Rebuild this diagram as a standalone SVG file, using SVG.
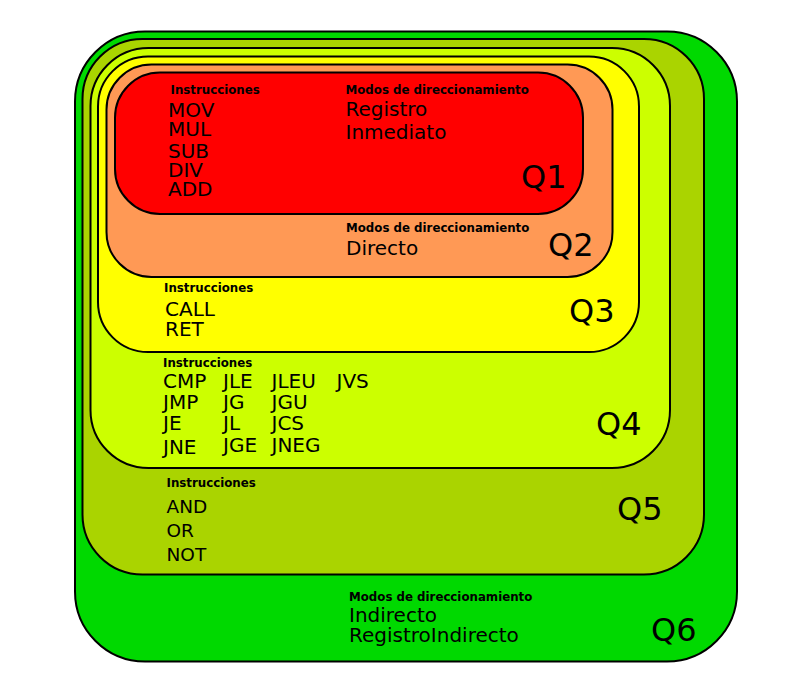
<svg xmlns="http://www.w3.org/2000/svg" width="810" height="695" viewBox="0 0 810 695">
<style>
.box{stroke:#000;stroke-width:2}
text{font-family:"DejaVu Sans","Liberation Sans",sans-serif;fill:#000}
.h{font-size:11.8px;font-weight:bold}
.t{font-size:20px}
.s{font-size:18.5px}
.q{font-size:32px}
</style>
<rect width="810" height="695" fill="#fff"/>
<g id="Q6">
<rect class="box" x="75" y="31.5" width="662" height="630" rx="70" ry="70" fill="#00d900"/>
<text class="h" x="349" y="601">Modos de direccionamiento</text>
<text class="t" x="349" y="622">Indirecto</text>
<text class="t" x="349" y="642">RegistroIndirecto</text>
<text class="q" x="651" y="641">Q6</text>
</g>
<g id="Q5">
<rect class="box" x="82.5" y="39" width="621.5" height="535.5" rx="60" ry="60" fill="#aad400"/>
<text class="h" x="166.5" y="487">Instrucciones</text>
<text class="s" x="166.5" y="513">AND</text>
<text class="s" x="166.5" y="537">OR</text>
<text class="s" x="166.5" y="561">NOT</text>
<text class="q" x="617" y="520">Q5</text>
</g>
<g id="Q4">
<rect class="box" x="90.5" y="48" width="579.5" height="420" rx="58" ry="58" fill="#ccff00"/>
<text class="h" x="163" y="366.5">Instrucciones</text>
<text class="t" x="163" y="387.5">CMP</text>
<text class="t" x="163" y="408.5">JMP</text>
<text class="t" x="163" y="430">JE</text>
<text class="t" x="163" y="454">JNE</text>
<text class="t" x="223" y="387.5">JLE</text>
<text class="t" x="223" y="408.5">JG</text>
<text class="t" x="223" y="430">JL</text>
<text class="t" x="223" y="451.5">JGE</text>
<text class="t" x="271.5" y="387.5">JLEU</text>
<text class="t" x="271.5" y="408.5">JGU</text>
<text class="t" x="271.5" y="430">JCS</text>
<text class="t" x="271.5" y="451.5">JNEG</text>
<text class="t" x="336.5" y="387.5">JVS</text>
<text class="q" x="596" y="435">Q4</text>
</g>
<g id="Q3">
<rect class="box" x="98" y="56.5" width="541" height="295.5" rx="50" ry="50" fill="#ffff00"/>
<text class="h" x="164" y="292">Instrucciones</text>
<text class="t" x="165" y="316">CALL</text>
<text class="t" x="165" y="335.5">RET</text>
<text class="q" x="569" y="322">Q3</text>
</g>
<g id="Q2">
<rect class="box" x="106.5" y="64.5" width="506" height="212.5" rx="45" ry="45" fill="#ff9955"/>
<text class="h" x="346" y="232">Modos de direccionamiento</text>
<text class="t" x="346" y="255">Directo</text>
<text class="q" x="548" y="256">Q2</text>
</g>
<g id="Q1">
<rect class="box" x="115" y="72.5" width="468" height="141.5" rx="45" ry="45" fill="#ff0000"/>
<text class="h" x="170.5" y="94">Instrucciones</text>
<text class="t" x="168" y="116.5">MOV</text>
<text class="t" x="168" y="136">MUL</text>
<text class="t" x="168" y="157.5">SUB</text>
<text class="t" x="168" y="176.5">DIV</text>
<text class="t" x="168" y="196">ADD</text>
<text class="h" x="345.5" y="94">Modos de direccionamiento</text>
<text class="t" x="345.5" y="116">Registro</text>
<text class="t" x="345.5" y="138.5">Inmediato</text>
<text class="q" x="521" y="188">Q1</text>
</g>
<g id="connectors"/>
</svg>
